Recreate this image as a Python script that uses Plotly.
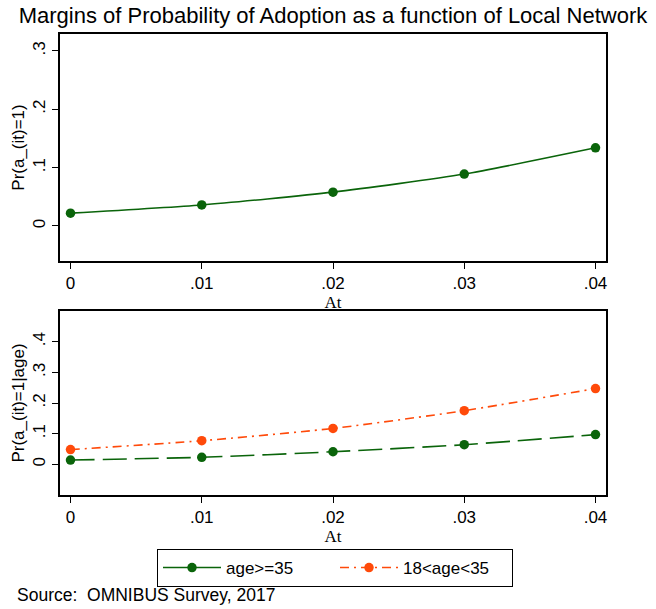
import plotly.graph_objects as go

# Local network share at which margins were evaluated
at_values = [0.0, 0.01, 0.02, 0.03, 0.04]
x_ticks = [0, 0.01, 0.02, 0.03, 0.04]
x_tick_text = ["0", ".01", ".02", ".03", ".04"]

# Predicted probability of adoption, all respondents
pr_all = [0.022, 0.036, 0.058, 0.089, 0.134]

# Predicted probability of adoption by age group
pr_age_35_plus = [0.014, 0.023, 0.041, 0.064, 0.097]
pr_age_18_35 = [0.048, 0.077, 0.117, 0.175, 0.247]

top_y_ticks = [0, 0.1, 0.2, 0.3]
top_y_text = ["0", ".1", ".2", ".3"]
bottom_y_ticks = [0, 0.1, 0.2, 0.3, 0.4]
bottom_y_text = ["0", ".1", ".2", ".3", ".4"]

GREEN = "#0a640a"
ORANGE = "#ff4a0a"
SANS = "Liberation Sans, Arial, sans-serif"
SERIF = "Liberation Serif, Times New Roman, serif"

fig = go.Figure()

fig.add_trace(go.Scatter(
    x=at_values, y=pr_all, mode="lines+markers", name="age>=35",
    line=dict(color=GREEN, width=1.6, shape="spline", smoothing=0.6),
    marker=dict(color=GREEN, size=9.5),
    xaxis="x", yaxis="y", showlegend=True,
))
fig.add_trace(go.Scatter(
    x=at_values, y=pr_age_35_plus, mode="lines+markers", name="age>=35",
    line=dict(color=GREEN, width=1.6, dash="24px,8px", shape="spline", smoothing=0.6),
    marker=dict(color=GREEN, size=9.5),
    xaxis="x2", yaxis="y2", showlegend=False,
))
fig.add_trace(go.Scatter(
    x=at_values, y=pr_age_18_35, mode="lines+markers", name="18<age<35",
    line=dict(color=ORANGE, width=1.6, dash="9px,5px,2px,5px", shape="spline", smoothing=0.6),
    marker=dict(color=ORANGE, size=9.5),
    xaxis="x2", yaxis="y2", showlegend=True,
))

x_dom = [60 / 656, 606 / 656]
common_x = dict(
    range=[-0.0008, 0.0408], tickvals=x_ticks, ticktext=x_tick_text,
    showline=True, linecolor="black", linewidth=1.5, mirror=True,
    ticks="outside", ticklen=6, tickcolor="black", tickwidth=1,
    showgrid=False, zeroline=False, domain=x_dom,
    tickfont=dict(family=SANS, size=17, color="black"),
    title=dict(text="At", font=dict(family=SERIF, size=17, color="black"), standoff=1),
)
common_y = dict(
    showline=True, linecolor="black", linewidth=1.5, mirror=True,
    ticks="outside", ticklen=6, tickcolor="black", tickwidth=1,
    showgrid=False, zeroline=False, tickangle=-90,
    tickfont=dict(family=SANS, size=17, color="black"),
)

fig.update_layout(
    width=656, height=609,
    margin=dict(l=0, r=0, t=0, b=0),
    paper_bgcolor="white", plot_bgcolor="white",
    xaxis=dict(**common_x, anchor="y"),
    yaxis=dict(**common_y, anchor="x",
               domain=[1 - 261 / 609, 1 - 34 / 609],
               range=[-0.06, 0.329], tickvals=top_y_ticks, ticktext=top_y_text,
               title=dict(text="Pr(a_(it)=1)", font=dict(family=SANS, size=17, color="black"),
                          standoff=2)),
    xaxis2=dict(**common_x, anchor="y2"),
    yaxis2=dict(**common_y, anchor="x2",
                domain=[1 - 495 / 609, 1 - 311 / 609],
                range=[-0.1, 0.5], tickvals=bottom_y_ticks, ticktext=bottom_y_text,
                title=dict(text="Pr(a_(it)=1|age)", font=dict(family=SANS, size=17, color="black"),
                           standoff=2)),
    title=dict(text="Margins of Probability of Adoption as a function of Local Network",
               x=333 / 656, xanchor="center", y=1 - 15 / 609, yanchor="middle",
               font=dict(family=SANS, size=22, color="black")),
    legend=dict(orientation="h", x=157 / 656, xanchor="left", y=1 - 549 / 609, yanchor="top",
                bordercolor="black", borderwidth=1, bgcolor="white",
                font=dict(family=SANS, size=17, color="black"),
                itemwidth=58, entrywidth=104, entrywidthmode="pixels"),
    annotations=[dict(text="Source:  OMNIBUS Survey, 2017", x=15 / 656, y=1 - 595 / 609,
                      xref="paper", yref="paper", xanchor="left", yanchor="middle",
                      showarrow=False, font=dict(family=SANS, size=17.5, color="black"))],
)

fig.write_html("out.html")
